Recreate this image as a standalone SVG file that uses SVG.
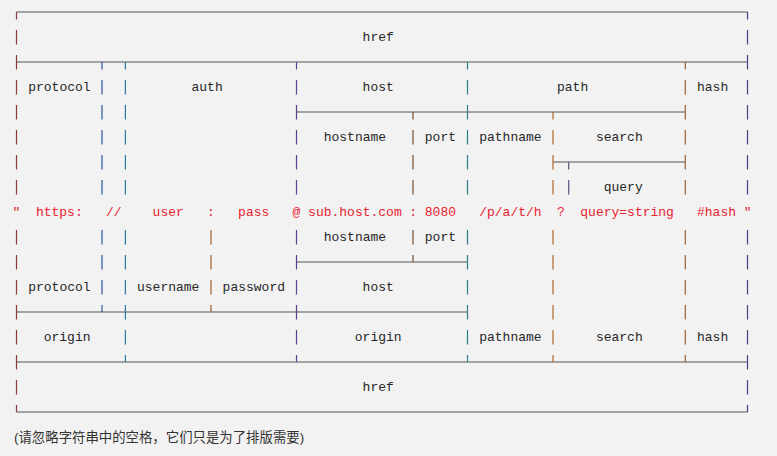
<svg xmlns="http://www.w3.org/2000/svg" width="777" height="456" viewBox="0 0 777 456">
<style>
.t{font-family:"Liberation Mono","DejaVu Sans Mono",monospace;font-size:13px;fill:#262626}
.u{font-family:"Liberation Mono","DejaVu Sans Mono",monospace;font-size:13px;fill:#e8232e}
.h{fill:none;stroke:#555;stroke-width:1.2}
.v{fill:none;stroke-width:1.2}
.note{font-family:"Liberation Sans","Noto Sans CJK SC",sans-serif;font-size:13.4px;fill:#333}
</style>
<rect width="777" height="456" fill="#f2f2f2"/>
<g id="connectors">
<g id="horizontal-lines">
<path class="h" d="M16.5 12H747.5 M16.5 62H747.5 M296.5 112H685.3 M553 162H685.3 M296.5 262H467.5 M16.5 312H467.5 M16.5 362H747.5 M16.5 412H747.5"/>
</g>
<g id="vertical-lines">
<path class="v" stroke="#8b3a3a" d="M16.5 12V19.5 M16.5 30V44.5 M16.5 55V69.5 M16.5 80V94.5 M16.5 105V119.5 M16.5 130V144.5 M16.5 155V169.5 M16.5 180V194.5 M16.5 230V244.5 M16.5 255V269.5 M16.5 280V294.5 M16.5 305V319.5 M16.5 330V344.5 M16.5 355V369.5 M16.5 380V394.5 M16.5 405V412"/>
<path class="v" stroke="#2c5aa0" d="M102 62V69.5 M102 80V94.5 M102 105V119.5 M102 130V144.5 M102 155V169.5 M102 180V194.5 M102 230V244.5 M102 255V269.5 M102 280V294.5 M102 305V312"/>
<path class="v" stroke="#2a7a9e" d="M125.4 62V69.5 M125.4 80V94.5 M125.4 105V119.5 M125.4 130V144.5 M125.4 155V169.5 M125.4 180V194.5 M125.4 230V244.5 M125.4 255V269.5 M125.4 280V294.5 M125.4 305V319.5 M125.4 330V344.5 M125.4 355V362"/>
<path class="v" stroke="#a0602a" d="M211 230V244.5 M211 255V269.5 M211 280V294.5 M211 305V312"/>
<path class="v" stroke="#5b3f8c" d="M296.5 62V69.5 M296.5 80V94.5 M296.5 105V119.5 M296.5 130V144.5 M296.5 155V169.5 M296.5 180V194.5 M296.5 230V244.5 M296.5 255V269.5 M296.5 280V294.5 M296.5 305V319.5 M296.5 330V344.5 M296.5 355V362"/>
<path class="v" stroke="#7a5030" d="M413 112V119.5 M413 130V144.5 M413 155V169.5 M413 180V194.5 M413 230V244.5 M413 255V262"/>
<path class="v" stroke="#2e7c8c" d="M467.5 62V69.5 M467.5 80V94.5 M467.5 105V119.5 M467.5 130V144.5 M467.5 155V169.5 M467.5 180V194.5 M467.5 230V244.5 M467.5 255V269.5 M467.5 280V294.5 M467.5 305V319.5 M467.5 330V344.5 M467.5 355V362"/>
<path class="v" stroke="#b0682a" d="M553 112V119.5 M553 130V144.5 M553 155V169.5 M553 180V194.5 M553 230V244.5 M553 255V269.5 M553 280V294.5 M553 305V319.5 M553 330V344.5 M553 355V362"/>
<path class="v" stroke="#5a5080" d="M568.7 162V169.5 M568.7 180V194.5"/>
<path class="v" stroke="#9a6030" d="M685.3 62V69.5 M685.3 80V94.5 M685.3 105V119.5 M685.3 130V144.5 M685.3 155V169.5 M685.3 180V194.5 M685.3 230V244.5 M685.3 255V269.5 M685.3 280V294.5 M685.3 305V319.5 M685.3 330V344.5 M685.3 355V362"/>
<path class="v" stroke="#4a3f80" d="M747.5 12V19.5 M747.5 30V44.5 M747.5 55V69.5 M747.5 80V94.5 M747.5 105V119.5 M747.5 130V144.5 M747.5 155V169.5 M747.5 180V194.5 M747.5 230V244.5 M747.5 255V269.5 M747.5 280V294.5 M747.5 305V319.5 M747.5 330V344.5 M747.5 355V369.5 M747.5 380V394.5 M747.5 405V412"/>
</g>
</g>
<g id="href-top"><text class="t" x="362.6" y="41">href</text></g>
<g id="protocol-top"><text class="t" x="28.2" y="91">protocol</text></g>
<g id="auth"><text class="t" x="191.5" y="91">auth</text></g>
<g id="host-top"><text class="t" x="362.6" y="91">host</text></g>
<g id="path"><text class="t" x="557" y="91">path</text></g>
<g id="hash-top"><text class="t" x="697" y="91">hash</text></g>
<g id="hostname-top"><text class="t" x="323.7" y="141">hostname</text></g>
<g id="port-top"><text class="t" x="424.8" y="141">port</text></g>
<g id="pathname-top"><text class="t" x="479.2" y="141">pathname</text></g>
<g id="search-top"><text class="t" x="595.9" y="141">search</text></g>
<g id="query"><text class="t" x="603.7" y="191">query</text></g>
<g id="url">
<text class="u" x="12.6" y="216">"</text>
<text class="u" x="35.9" y="216">https:</text>
<text class="u" x="105.9" y="216">//</text>
<text class="u" x="152.6" y="216">user</text>
<text class="u" x="207" y="216">:</text>
<text class="u" x="238.1" y="216">pass</text>
<text class="u" x="292.6" y="216">@</text>
<text class="u" x="308.1" y="216">sub.host.com</text>
<text class="u" x="409.2" y="216">:</text>
<text class="u" x="424.8" y="216">8080</text>
<text class="u" x="479.2" y="216">/p/a/t/h</text>
<text class="u" x="557" y="216">?</text>
<text class="u" x="580.3" y="216">query=string</text>
<text class="u" x="697" y="216">#hash</text>
<text class="u" x="743.7" y="216">"</text>
</g>
<g id="hostname-bottom"><text class="t" x="323.7" y="241">hostname</text></g>
<g id="port-bottom"><text class="t" x="424.8" y="241">port</text></g>
<g id="protocol-bottom"><text class="t" x="28.2" y="291">protocol</text></g>
<g id="username"><text class="t" x="137" y="291">username</text></g>
<g id="password"><text class="t" x="222.6" y="291">password</text></g>
<g id="host-bottom"><text class="t" x="362.6" y="291">host</text></g>
<g id="origin-left"><text class="t" x="43.7" y="341">origin</text></g>
<g id="origin-right"><text class="t" x="354.8" y="341">origin</text></g>
<g id="pathname-bottom"><text class="t" x="479.2" y="341">pathname</text></g>
<g id="search-bottom"><text class="t" x="595.9" y="341">search</text></g>
<g id="hash-bottom"><text class="t" x="697" y="341">hash</text></g>
<g id="href-bottom"><text class="t" x="362.6" y="391">href</text></g>
<g id="note"><text class="note" x="14" y="441.5">(请忽略字符串中的空格，它们只是为了排版需要)</text></g>
</svg>
